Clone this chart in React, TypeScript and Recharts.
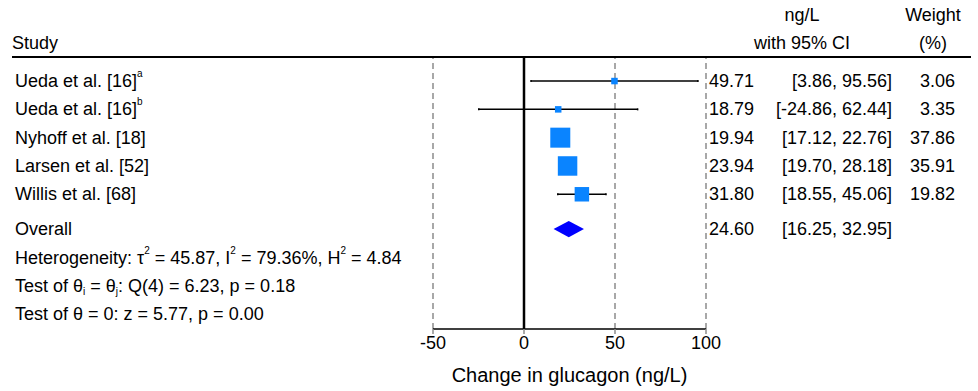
import { ComposedChart, ErrorBar, ReferenceArea, ReferenceLine, Scatter, XAxis, YAxis } from 'recharts';

const studies = ['Ueda et al. [16]', 'Ueda et al. [16]', 'Nyhoff et al. [18]', 'Larsen et al. [52]', 'Willis et al. [68]'];
const studyNotes = ['a', 'b', '', '', ''];
const estimates = [49.71, 18.79, 19.94, 23.94, 31.8];
const lower = [3.86, -24.86, 17.12, 19.7, 18.55];
const upper = [95.56, 62.44, 22.76, 28.18, 45.06];
const weights = [3.06, 3.35, 37.86, 35.91, 19.82];

const overallEst = 24.6;
const overallLo = 16.25;
const overallHi = 32.95;

const xTicks = [-50, 0, 50, 100];
const guideLines = [-50, 50, 100];

const W = 978;
const H = 391;
const FONT = '"Liberation Sans", Arial, Helvetica, sans-serif';
const FS = 18;
const SQUARE = '#0a84ff';
const DIAMOND = '#0000ff';

// row slots on the hidden y axis (studies 0..4, overall a bit further down)
const OVERALL_ROW = 5.23;
const Y_DOMAIN: [number, number] = [-0.85, 8.76];

const rows = studies.map((study, i) => ({
  study,
  note: studyNotes[i],
  est: estimates[i],
  lo: lower[i],
  hi: upper[i],
  w: weights[i],
  err: [estimates[i] - lower[i], upper[i] - estimates[i]],
  row: i,
}));

const maxW = Math.max(...weights);
const f2 = (v: number) => v.toFixed(2);

const txt = { fontFamily: FONT, fontSize: FS, fill: '#000' };

function RightColumns({ cy, est, lo, hi, w }: { cy: number; est: number; lo: number; hi: number; w?: number }) {
  return (
    <g style={txt}>
      <text x={709} y={cy} dominantBaseline="central">{f2(est)}</text>
      <text x={892} y={cy} dominantBaseline="central" textAnchor="end">{`[${f2(lo)}, ${f2(hi)}]`}</text>
      {w != null && (
        <text x={955} y={cy} dominantBaseline="central" textAnchor="end">{f2(w)}</text>
      )}
    </g>
  );
}

function StudyMark(props: any) {
  const { cx, cy, payload } = props;
  const side = Math.max(6.5, 20 * Math.sqrt(payload.w / maxW));
  return (
    <g>
      <rect x={cx - side / 2} y={cy - side / 2} width={side} height={side} fill={SQUARE} />
      <text x={15} y={cy} dominantBaseline="central" style={txt}>
        {payload.study}
        {payload.note && (
          <tspan dy={-8} fontSize={10}>{payload.note}</tspan>
        )}
      </text>
      <RightColumns cy={cy} est={payload.est} lo={payload.lo} hi={payload.hi} w={payload.w} />
    </g>
  );
}

function Diamond(props: any) {
  const { x, y, width, height } = props;
  const mid = x + (width * (overallEst - overallLo)) / (overallHi - overallLo);
  const cy = y + height / 2;
  return (
    <g>
      <polygon points={`${x},${cy} ${mid},${y} ${x + width},${cy} ${mid},${y + height}`} fill={DIAMOND} />
      <text x={15} y={cy} dominantBaseline="central" style={txt}>Overall</text>
      <RightColumns cy={cy} est={overallEst} lo={overallLo} hi={overallHi} />
    </g>
  );
}

export default function App() {
  return (
    <div style={{ position: 'relative', width: W, height: H, background: '#fff' }}>
      <style>{'body{margin:0}'}</style>
      <ComposedChart width={W} height={H} margin={{ top: 57, left: 433, right: 272, bottom: 0 }}>
        <XAxis
          type="number"
          dataKey="est"
          domain={[-50, 100]}
          ticks={xTicks}
          height={62}
          axisLine={{ stroke: '#000', strokeWidth: 1.5 }}
          tickLine={{ stroke: '#8c8c8c', strokeWidth: 1.5 }}
          tickSize={5}
          tick={{ fill: '#000', fontSize: FS, fontFamily: FONT }}
          label={{ value: 'Change in glucagon (ng/L)', position: 'insideBottom', offset: 9, fill: '#000', fontSize: 20, fontFamily: FONT }}
        />
        <YAxis type="number" dataKey="row" domain={Y_DOMAIN} reversed hide />
        {guideLines.map((g) => (
          <ReferenceLine key={g} x={g} stroke="#8c8c8c" strokeWidth={1.5} strokeDasharray="6 4" />
        ))}
        <ReferenceLine x={0} stroke="#000" strokeWidth={2.5} />
        <ReferenceArea
          x1={overallLo}
          x2={overallHi}
          y1={OVERALL_ROW - 0.29}
          y2={OVERALL_ROW + 0.29}
          shape={<Diamond />}
        />
        <Scatter data={rows} isAnimationActive={false} shape={<StudyMark />}>
          <ErrorBar dataKey="err" direction="x" width={1} stroke="#000" strokeWidth={1.5} />
        </Scatter>
      </ComposedChart>
      <svg width={W} height={H} style={{ position: 'absolute', left: 0, top: 0, pointerEvents: 'none' }}>
        <g style={txt}>
          <text x={12} y={43} dominantBaseline="central">Study</text>
          <text x={802} y={15} dominantBaseline="central" textAnchor="middle">ng/L</text>
          <text x={802} y={43} dominantBaseline="central" textAnchor="middle">with 95% CI</text>
          <text x={933} y={15} dominantBaseline="central" textAnchor="middle">Weight</text>
          <text x={933} y={43} dominantBaseline="central" textAnchor="middle">(%)</text>
          <text x={15} y={258} dominantBaseline="central">
            Heterogeneity: τ<tspan dy={-8} fontSize={10}>2</tspan>
            <tspan dy={8}> = 45.87, I</tspan><tspan dy={-8} fontSize={10}>2</tspan>
            <tspan dy={8}> = 79.36%, H</tspan><tspan dy={-8} fontSize={10}>2</tspan>
            <tspan dy={8}> = 4.84</tspan>
          </text>
          <text x={15} y={286} dominantBaseline="central">
            Test of θ<tspan dy={5} fontSize={10}>i</tspan>
            <tspan dy={-5}> = θ</tspan><tspan dy={5} fontSize={10}>j</tspan>
            <tspan dy={-5}>: Q(4) = 6.23, p = 0.18</tspan>
          </text>
          <text x={15} y={314} dominantBaseline="central">Test of θ = 0: z = 5.77, p = 0.00</text>
        </g>
        <line x1={12} x2={971} y1={57} y2={57} stroke="#000" strokeWidth={2} />
      </svg>
    </div>
  );
}
